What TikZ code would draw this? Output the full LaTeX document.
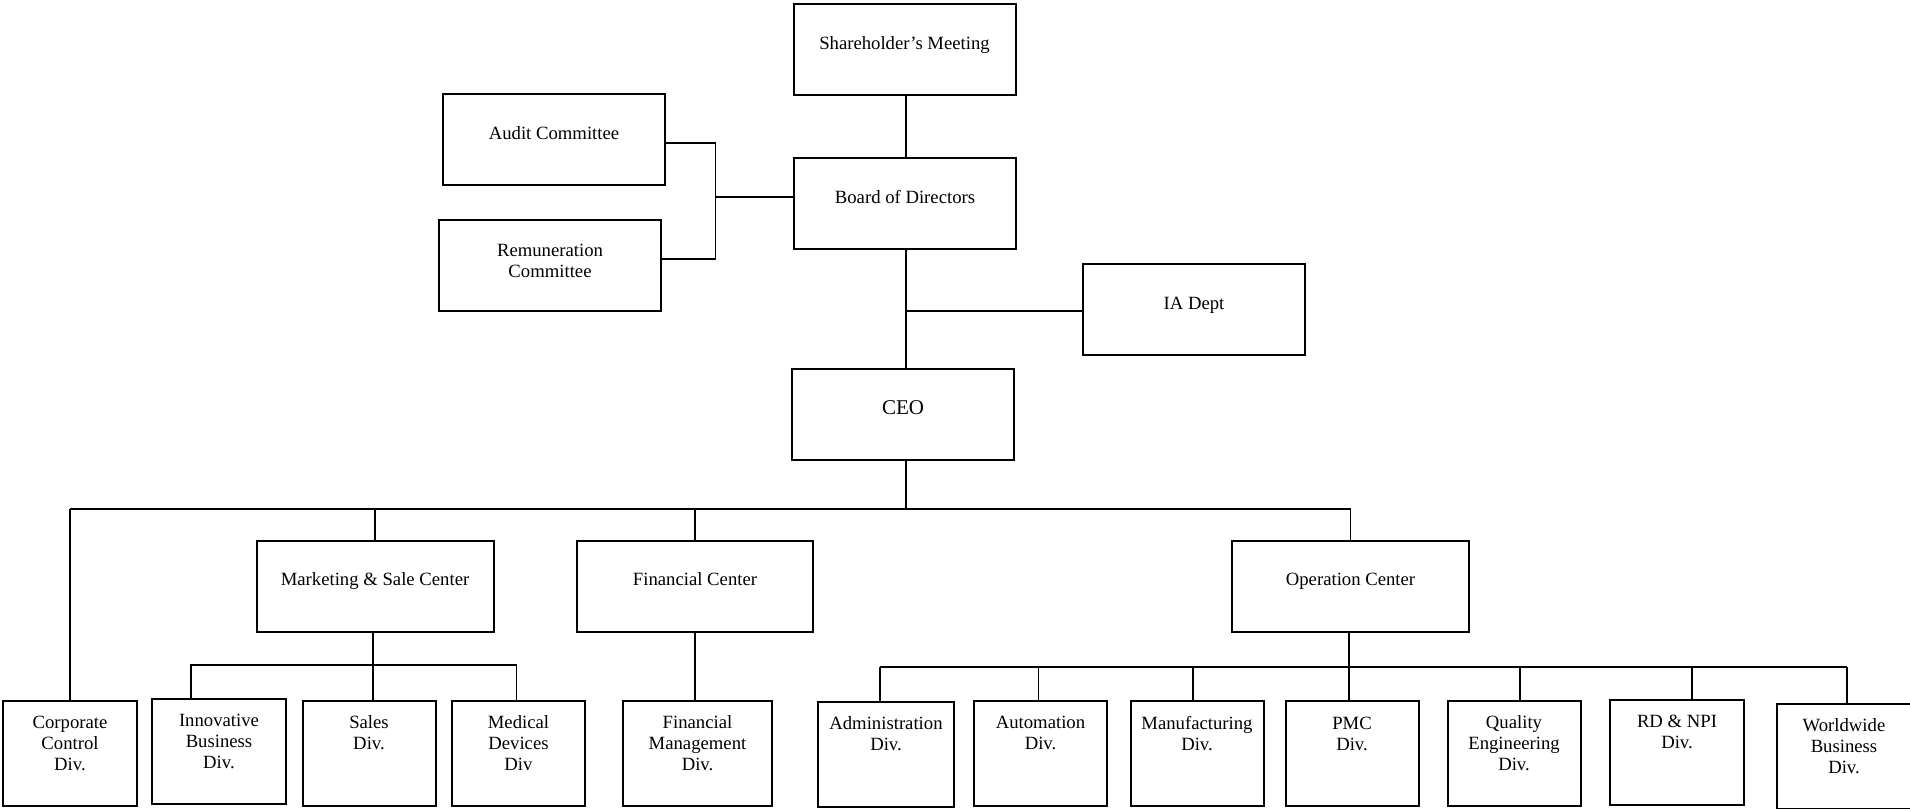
\documentclass[tikz,border=0pt]{standalone}
\usepackage{fontspec}
\setmainfont{Liberation Serif}
\begin{document}
\begin{tikzpicture}[x=1pt,y=1pt]
\tikzstyle{every node}+=[inner sep=0pt]
\tikzstyle{box}=[draw=black, line width=2pt, align=center, font=\fontsize{18.7}{20.6}\selectfont]
\tikzstyle{bigbox}=[box, minimum width=222pt, text height=45pt, text depth=46pt]
\tikzstyle{divtwo}=[box, minimum width=133pt, text height=49pt, text depth=56pt]
\tikzstyle{divthree}=[box, minimum width=133pt, text height=69pt, text depth=36pt]
\tikzstyle{link}=[black, line width=1.6pt]
\useasboundingbox (0,0) rectangle (1910,-808);
\node [bigbox] (share) at (904.5,-49.5) {Shareholder’s Meeting};
\node [bigbox] (audit) at (554,-139.5) {Audit Committee};
\node [bigbox] (board) at (905,-203.5) {Board of Directors};
\node [bigbox, text height=57pt, text depth=34pt] (remun) at (550,-265.5) {Remuneration\\Committee};
\node [bigbox] (ia) at (1194,-309.5) {IA Dept};
\node [bigbox, font=\fontsize{21}{24}\selectfont] (ceo) at (903,-414.5) {CEO};
\node [bigbox, minimum width=237pt] (mkt) at (375,-586) {Marketing \& Sale Center};
\node [bigbox, minimum width=236pt] (fin) at (695,-586) {Financial Center};
\node [bigbox, minimum width=237pt] (ops) at (1350.5,-586) {Operation Center};
\node [divthree, minimum width=134pt] (corp) at (70,-753.5) {Corporate\\Control\\Div.};
\node [divthree, minimum width=134pt] (innov) at (219,-751.5) {Innovative\\Business\\Div.};
\node [divtwo] (sales) at (369,-753) {Sales\\Div.};
\node [divthree] (med) at (518.5,-753.5) {Medical\\Devices\\Div};
\node [divthree, minimum width=149pt] (finm) at (697.5,-753.5) {Financial\\Management\\Div.};
\node [divtwo, minimum width=136pt] (admin) at (886,-754) {Administration\\Div.};
\node [divtwo] (auto) at (1040.5,-753) {Automation\\Div.};
\node [divtwo] (manu) at (1197,-753.5) {Manufacturing\\Div.};
\node [divtwo] (pmc) at (1352,-753.5) {PMC\\Div.};
\node [divthree] (qual) at (1514,-753.5) {Quality\\Engineering\\Div.};
\node [divtwo, minimum width=134pt] (rdnpi) at (1677,-752) {RD \& NPI\\Div.};
\node [divthree, minimum width=134pt] (world) at (1844,-756.5) {Worldwide\\Business\\Div.};
\coordinate (cj) at (715.5,-197);
\coordinate (bus) at (906,-509);
\coordinate (mbus) at (373,-665);
\coordinate (obus) at (1349,-667);
\draw [link] (bus |- share.south) -- (bus |- board.north);
\draw [link] (bus |- board.south) -- (bus |- ceo.north);
\draw [link] (bus |- ceo.south) -- (bus);
\draw [link] ([yshift=-1.5pt]ia.west) -- ([yshift=-1.5pt]ia.west -| bus);
\draw [link] ([yshift=-3.5pt]audit.east) -| (cj) |- ([yshift=6.5pt]remun.east);
\draw [link] (cj) -- (board.west |- cj);
\draw [link] (corp.north |- bus) -- (ops.north |- bus);
\foreach \n in {corp, mkt, fin, ops}
  \draw [link] (\n.north |- bus) -- (\n.north);
\draw [link] (mbus |- mkt.south) -- (mbus |- sales.north);
\draw [link] ([xshift=-28pt]innov.north) |- (mbus) -| ([xshift=-2pt]med.north);
\draw [link] (fin.south) -- (fin.south |- finm.north);
\draw [link] (obus |- ops.south) -- (obus);
\draw [link] ([xshift=-6pt]admin.north |- obus) -- ([xshift=3pt]world.north |- obus);
\foreach \n/\dx in {admin/-6, auto/-2, manu/-4, pmc/-3, qual/6, rdnpi/15, world/3}
  \draw [link] ([xshift=\dx pt]\n.north |- obus) -- ([xshift=\dx pt]\n.north);
\end{tikzpicture}
\end{document}
